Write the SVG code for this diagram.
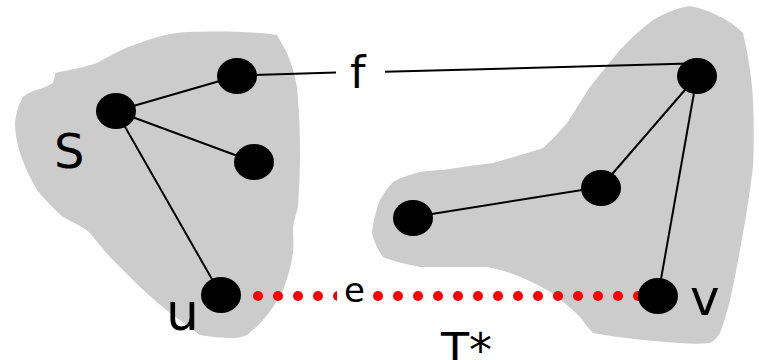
<svg xmlns="http://www.w3.org/2000/svg" width="759" height="360" viewBox="0 0 759 360">
<style>
.blob{fill:#cccccc;stroke:none}
.nd{fill:#000}
.ed{stroke:#000;stroke-width:2;fill:none}
.dot{fill:#ff0000}
text{font-family:"DejaVu Sans","Liberation Sans",sans-serif;fill:#000}
</style>
<g id="regions">
<path class="blob" d="M55,73 C70,70 85,67 97,63 C112,55 125,47 140,43 C155,37 170,33 187,32 C215,31 250,31 277,35 C281,42 284,48 287,53 C291,63 295,75 297,87 C299,110 300,130 300,153 C300,175 299,190 298,207 C296,215 294,220 293,227 C293,236 294,245 293,253 C291,265 288,278 283,290 C277,302 270,312 263,320 C258,326 252,331 247,335 C242,337 238,338 233,338 C222,338 210,337 200,335 C190,328 180,320 170,313 C160,305 150,296 140,287 C130,277 120,267 110,257 C103,249 96,241 90,233 C82,226 72,222 63,217 C55,210 45,200 37,190 C30,178 24,165 20,153 C17,143 15,133 15,123 C16,113 19,104 23,97 C28,93 32,91 37,90 C43,88 48,86 53,83 C54,79 55,76 55,73 Z"/>
<path class="blob" d="M690,6 C710,10 730,20 743,33 C748,55 752,78 753,100 C754,122 754,145 753,167 C750,190 747,212 743,233 C739,256 735,278 730,300 C727,312 724,323 720,333 C717,338 713,342 710,343 C700,344 690,344 680,343 C650,341 620,338 593,333 C588,328 584,322 580,317 C570,307 558,297 547,290 C535,283 522,277 510,273 C502,270 494,268 487,267 C465,267 442,267 420,267 C405,264 393,261 383,257 C378,250 374,242 372,233 C373,222 376,210 380,200 C384,193 388,187 393,182 C402,177 411,174 420,172 C428,171 435,170 443,170 C460,167 477,165 493,163 C510,158 528,153 543,148 C552,140 560,131 567,123 C575,111 582,99 590,87 C600,74 610,62 620,50 C630,39 641,29 653,20 C665,13 677,8 690,6 Z"/>
</g>
<g id="connectors">
<line class="ed" x1="116" y1="111" x2="237" y2="76"/>
<line class="ed" x1="116" y1="111" x2="254" y2="162"/>
<line class="ed" x1="116" y1="111" x2="221" y2="295"/>
<line class="ed" x1="237" y1="75.5" x2="336" y2="72.6"/>
<line class="ed" x1="385" y1="71.8" x2="690" y2="63.5"/>
<line class="ed" x1="697" y1="76" x2="601" y2="187"/>
<line class="ed" x1="697" y1="76" x2="658" y2="296"/>
<line class="ed" x1="601" y1="187" x2="413" y2="217"/>
<g id="edge-e">
<circle class="dot" cx="258" cy="296" r="5"/>
<circle class="dot" cx="278" cy="296" r="5"/>
<circle class="dot" cx="298" cy="296" r="5"/>
<circle class="dot" cx="318" cy="296" r="5"/>
<circle class="dot" cx="338" cy="296" r="5"/>
<circle class="dot" cx="378" cy="296" r="5"/>
<circle class="dot" cx="398" cy="296" r="5"/>
<circle class="dot" cx="418" cy="296" r="5"/>
<circle class="dot" cx="438" cy="296" r="5"/>
<circle class="dot" cx="458" cy="296" r="5"/>
<circle class="dot" cx="478" cy="296" r="5"/>
<circle class="dot" cx="498" cy="296" r="5"/>
<circle class="dot" cx="518" cy="296" r="5"/>
<circle class="dot" cx="538" cy="296" r="5"/>
<circle class="dot" cx="558" cy="296" r="5"/>
<circle class="dot" cx="578" cy="296" r="5"/>
<circle class="dot" cx="598" cy="296" r="5"/>
<circle class="dot" cx="618" cy="296" r="5"/>
<circle class="dot" cx="638" cy="296" r="5"/>
<rect x="337" y="282" width="29" height="24" fill="#ffffff"/>
<text x="344" y="302" font-size="34">e</text>
</g>
<text x="350" y="88" font-size="44">f</text>
</g>
<g id="node-a"><ellipse class="nd" cx="237" cy="76" rx="20" ry="18"/></g>
<g id="node-s"><ellipse class="nd" cx="116" cy="111" rx="20" ry="18"/><text x="54" y="168" font-size="48">S</text></g>
<g id="node-c"><ellipse class="nd" cx="254" cy="162" rx="20" ry="18"/></g>
<g id="node-u"><ellipse class="nd" cx="221" cy="295" rx="20" ry="18"/><text x="166" y="330" font-size="52">u</text></g>
<g id="node-r1"><ellipse class="nd" cx="697" cy="76" rx="20" ry="18"/></g>
<g id="node-r2"><ellipse class="nd" cx="601" cy="188" rx="20" ry="18"/></g>
<g id="node-r3"><ellipse class="nd" cx="413" cy="218" rx="20" ry="18"/></g>
<g id="node-v"><ellipse class="nd" cx="658" cy="296" rx="20" ry="18"/><text x="690" y="315" font-size="50">v</text></g>
<text x="441" y="366" font-size="46">T*</text>
</svg>
